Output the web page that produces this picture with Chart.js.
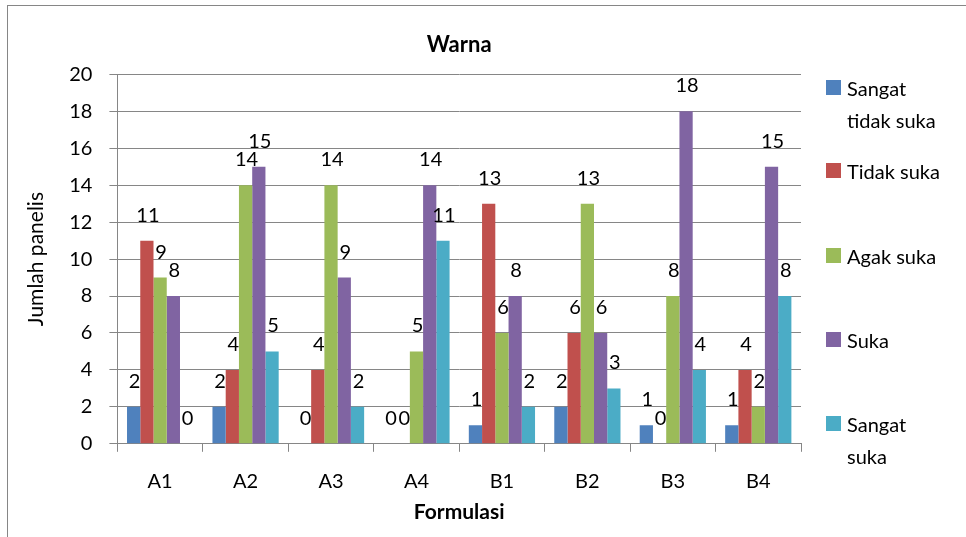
<!DOCTYPE html>
<html>
<head>
<meta charset="utf-8">
<script src="https://cdn.jsdelivr.net/npm/chart.js@4.4.0/dist/chart.umd.min.js"></script>
<style>
  html, body { margin: 0; padding: 0; background: #fff; }
  #wrap { position: relative; width: 966px; height: 537px; overflow: hidden; }
  #frame { position: absolute; left: 7px; top: 5px; width: 980px; height: 560px; border: 1px solid #868686; box-sizing: border-box; }
  canvas { position: absolute; left: 0; top: 0; }
  .item { position: absolute; left: 826px; font-family: Lato, sans-serif; font-size: 20px; color: #000; }
  .box { position: absolute; left: 0; top: 0; width: 15px; height: 15px; }
  .txt { position: absolute; left: 21px; top: -8px; line-height: 32px; white-space: nowrap; }
</style>
</head>
<body>
<div id="wrap">
  <div id="frame"></div>
  <canvas id="chart" width="900" height="537"></canvas>
</div>
<script>
// data
const categories = ['A1', 'A2', 'A3', 'A4', 'B1', 'B2', 'B3', 'B4'];
const seriesNames = [['Sangat', 'tidak suka'], ['Tidak suka'], ['Agak suka'], ['Suka'], ['Sangat', 'suka']];
const sangatTidakSuka = [2, 2, 0, 0, 1, 2, 1, 1];
const tidakSuka = [11, 4, 4, 0, 13, 6, 0, 4];
const agakSuka = [9, 14, 14, 5, 6, 13, 8, 2];
const suka = [8, 15, 9, 14, 8, 6, 18, 15];
const sangatSuka = [0, 5, 2, 11, 2, 3, 4, 8];
const colors = ['#4F81BD', '#C0504D', '#9BBB59', '#8064A2', '#4BACC6'];

const allSeries = [sangatTidakSuka, tidakSuka, agakSuka, suka, sangatSuka];
const font = 'Lato, sans-serif';

// label di atas batang
const valueLabels = {
  id: 'valueLabels',
  afterDatasetsDraw(chart) {
    const ctx = chart.ctx;
    ctx.save();
    ctx.font = '20px ' + font;
    ctx.fillStyle = '#000';
    ctx.textAlign = 'center';
    ctx.textBaseline = 'alphabetic';
    chart.data.datasets.forEach((ds, i) => {
      chart.getDatasetMeta(i).data.forEach((bar, j) => {
        ctx.fillText(String(ds.data[j]), bar.x + 1, bar.y - 19);
      });
    });
    ctx.restore();
  }
};

new Chart(document.getElementById('chart'), {
  type: 'bar',
  data: {
    labels: categories,
    datasets: allSeries.map((d, i) => ({
      label: seriesNames[i].join(' '),
      data: d,
      backgroundColor: colors[i],
      borderWidth: 0,
      barPercentage: 1,
      categoryPercentage: 0.775
    }))
  },
  options: {
    responsive: false,
    animation: false,
    layout: { padding: { left: 24, right: 99, top: 32, bottom: 12 } },
    plugins: {
      legend: { display: false },
      tooltip: { enabled: false },
      title: {
        display: true,
        fullSize: false,
        text: 'Warna',
        color: '#000',
        font: { family: font, size: 22, weight: 'bold' },
        padding: { top: 0, bottom: 16 }
      }
    },
    scales: {
      y: {
        min: 0,
        max: 20,
        ticks: { stepSize: 2, color: '#000', font: { family: font, size: 20 }, padding: 17 },
        grid: { color: '#868686', tickLength: 8, lineWidth: 1 },
        border: { color: '#868686' },
        title: { display: true, text: 'Jumlah panelis', color: '#000', font: { family: font, size: 21 }, padding: { top: 0, bottom: 3 } }
      },
      x: {
        ticks: { color: '#000', font: { family: font, size: 20 }, padding: 18 },
        grid: { color: '#868686', drawOnChartArea: false, tickLength: 8 },
        border: { color: '#868686' },
        title: { display: true, text: 'Formulasi', color: '#000', font: { family: font, size: 21, weight: 'bold' }, padding: { top: -12, bottom: 0 } }
      }
    }
  },
  plugins: [valueLabels]
});

// legenda
const legendTops = [80, 163, 248, 332, 416];
const wrap = document.getElementById('wrap');
seriesNames.forEach((name, i) => {
  const item = document.createElement('div');
  item.className = 'item';
  item.style.top = legendTops[i] + 'px';
  item.innerHTML = '<div class="box" style="background:' + colors[i] + '"></div>' +
    '<div class="txt">' + name.join('<br>') + '</div>';
  wrap.appendChild(item);
});
</script>
</body>
</html>
